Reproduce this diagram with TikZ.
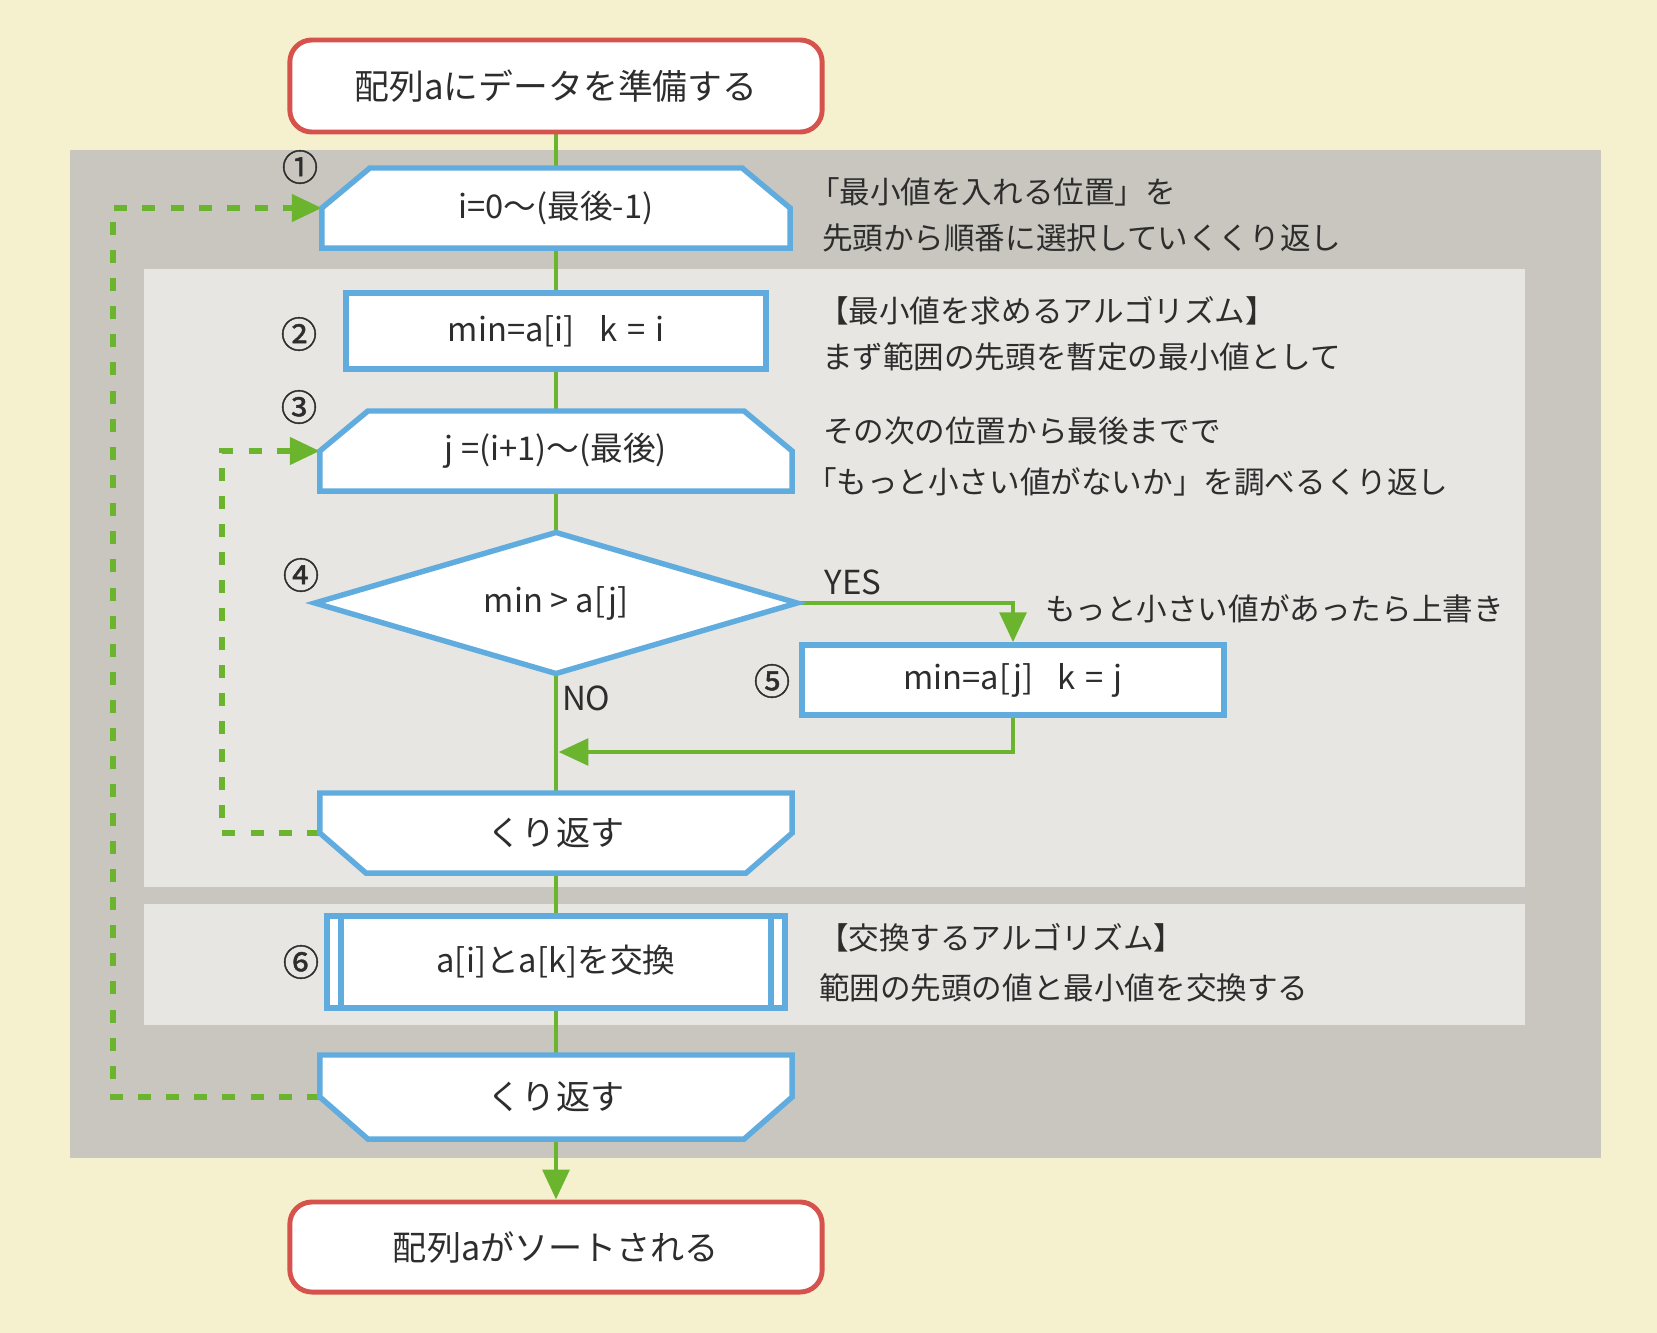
\documentclass[tikz,border=0pt]{standalone}
\usepackage{fontspec}
\setmainfont{Noto Sans CJK JP}
\newfontfamily\numfont{Noto Sans CJK JP}[FakeBold=1.2]
\usetikzlibrary{arrows.meta,calc}
\pgfdeclarelayer{panels}
\pgfdeclarelayer{links}
\pgfdeclarelayer{shapes}
\pgfsetlayers{panels,links,shapes,main}
\definecolor{cream}{RGB}{245,241,206}
\definecolor{panelgray}{RGB}{201,198,191}
\definecolor{panellight}{RGB}{232,230,226}
\definecolor{flowblue}{RGB}{96,172,222}
\definecolor{flowgreen}{RGB}{107,180,46}
\definecolor{termred}{RGB}{214,82,76}
\definecolor{txt}{RGB}{45,45,45}
\newcommand{\setfs}[1]{\fontsize{#1}{#1}\selectfont}
\newcommand{\gap}{\hspace{0.75em}}
\newcommand{\eqs}{\hspace{0.3em}=\hspace{0.3em}}
\begin{document}
\begin{tikzpicture}[x=0.01cm,y=-0.01cm,
  base/.style={inner sep=0pt, outer sep=0pt, text=txt, align=center},
  term/.style={base, draw=termred, line width=1.4pt, fill=white, rounded corners=0.22cm,
    minimum width=5.32cm, minimum height=0.92cm, outer sep=0.7pt},
  procbox/.style={base, draw=flowblue, line width=1.55pt, fill=white, outer sep=0.775pt,
    font=\setfs{9.3}},
  holder/.style={base, font=\setfs{9.3}},
  outline/.style={draw=flowblue, line width=1.55pt, fill=white, line join=miter},
  flow/.style={draw=flowgreen, line width=1.4pt},
  loopback/.style={draw=flowgreen, line width=1.7pt, dash pattern=on 3.7pt off 4.3pt},
  tip/.style={-{Triangle[length=8.5pt,width=7.5pt]}},
  num/.style={base, font=\numfont\setfs{10.3}},
  desc/.style={base, anchor=west, font=\setfs{8.7}},
  yn/.style={base, font=\setfs{9.4}}
]
\useasboundingbox (0,0) rectangle (1657,1333);

% ---------- nodes ----------
\node[term, font=\setfs{9.9}] (t1) at (556,86) {配列aにデータを準備する};
\node[holder, minimum width=4.68cm, minimum height=0.80cm] (b1) at (556,208) {i=0〜(最後-1)};
\node[procbox, minimum width=4.20cm, minimum height=0.76cm] (b2) at (556,331) {min=a[i]\gap k\eqs i};
\node[holder, minimum width=4.72cm, minimum height=0.80cm] (b3) at (556,451) {j =(i+1)〜(最後)};
\node[holder, minimum width=4.82cm, minimum height=1.41cm] (d4) at (556,603) {min > a[j]};
\node[procbox, minimum width=4.22cm, minimum height=0.70cm] (b5) at (1013,680) {min=a[j]\gap k\eqs j};
\node[holder, minimum width=4.72cm, minimum height=0.80cm, font=\setfs{9.7}] (l1) at (556,833) {くり返す};
\node[procbox, minimum width=4.58cm, minimum height=0.92cm] (b6) at (556,962) {a[i]とa[k]を交換};
\node[holder, minimum width=4.72cm, minimum height=0.84cm, font=\setfs{9.7}] (l2) at (556,1097) {くり返す};
\node[term, font=\setfs{9.7}, minimum height=0.90cm] (t2) at (556,1247) {配列aがソートされる};

\draw[flowblue, line width=1.55pt] ([xshift=0.17cm]b6.north west) -- ([xshift=0.17cm]b6.south west);
\draw[flowblue, line width=1.55pt] ([xshift=-0.17cm]b6.north east) -- ([xshift=-0.17cm]b6.south east);

% numbers
\node[num] (c1) at (300,167) {①};
\node[num] (c2) at (299,334) {②};
\node[num] (c3) at (299,407) {③};
\node[num] (c4) at (301,575) {④};
\node[num] (c5) at (772,681) {⑤};
\node[num] (c6) at (301,962) {⑥};

% yes / no
\node[yn] (yes) at (853,582) {YES};
\node[yn, anchor=west] (no) at (562,698) {NO};

% descriptions
\node[desc] (d1a) at (809,192) {「最小値を入れる位置」を};
\node[desc] (d1b) at (822,238) {先頭から順番に選択していくくり返し};
\node[desc] (d2a) at (818,311) {【最小値を求めるアルゴリズム】};
\node[desc] (d2b) at (822,357) {まず範囲の先頭を暫定の最小値として};
\node[desc] (d3a) at (823,431) {その次の位置から最後までで};
\node[desc] (d3b) at (806,482) {「もっと小さい値がないか」を調べるくり返し};
\node[desc] (d5) at (1045,609) {もっと小さい値があったら上書き};
\node[desc] (d6a) at (818,938) {【交換するアルゴリズム】};
\node[desc] (d6b) at (819,988) {範囲の先頭の値と最小値を交換する};

\coordinate (ret) at (558.5,752);
\coordinate (lx1) at (222,0);
\coordinate (lx2) at (113,0);

% ---------- panels ----------
\begin{pgfonlayer}{panels}
\fill[cream] (0,0) rectangle (1657,1333);
\fill[panelgray] (70,150) rectangle (1601,1158);
\fill[panellight] (144,269) rectangle (1525,887);
\fill[panellight] (144,904) rectangle (1525,1025);
\end{pgfonlayer}

% ---------- custom outlines ----------
\begin{pgfonlayer}{shapes}
\draw[outline] ([xshift=0.48cm]b1.north west) -- ([xshift=-0.48cm]b1.north east) -- (b1.east)
  -- (b1.south east) -- (b1.south west) -- (b1.west) -- cycle;
\draw[outline] ([xshift=0.48cm]b3.north west) -- ([xshift=-0.48cm]b3.north east) -- (b3.east)
  -- (b3.south east) -- (b3.south west) -- (b3.west) -- cycle;
\draw[outline] (d4.north) -- (d4.east) -- (d4.south) -- (d4.west) -- cycle;
\draw[outline] (l1.north west) -- (l1.north east) -- (l1.east)
  -- ([xshift=-0.46cm]l1.south east) -- ([xshift=0.46cm]l1.south west) -- (l1.west) -- cycle;
\draw[outline] (l2.north west) -- (l2.north east) -- (l2.east)
  -- ([xshift=-0.48cm]l2.south east) -- ([xshift=0.48cm]l2.south west) -- (l2.west) -- cycle;
\end{pgfonlayer}

% ---------- connectors ----------
\begin{pgfonlayer}{links}
\draw[flow] (t1.south) -- (b1.north);
\draw[flow] (b1.south) -- (b2.north);
\draw[flow] (b2.south) -- (b3.north);
\draw[flow] (b3.south) -- (d4.north);
\draw[flow] (d4.south) -- (l1.north);
\draw[flow, tip] (d4.east) -- (b5.north |- d4.east) -- (b5.north);
\draw[flow, tip] (b5.south) -- (b5.south |- ret) -- (ret);
\draw[flow] (l1.south) -- (b6.north);
\draw[flow] (b6.south) -- (l2.north);
\draw[flow, tip] (l2.south) -- (t2.north);
\draw[loopback, tip] (l1.west) -- (l1.west -| lx1) -- (b3.west -| lx1) -- (b3.west);
\draw[loopback, tip] (l2.west) -- (l2.west -| lx2) -- (b1.west -| lx2) -- (b1.west);
\end{pgfonlayer}
\end{tikzpicture}
\end{document}
